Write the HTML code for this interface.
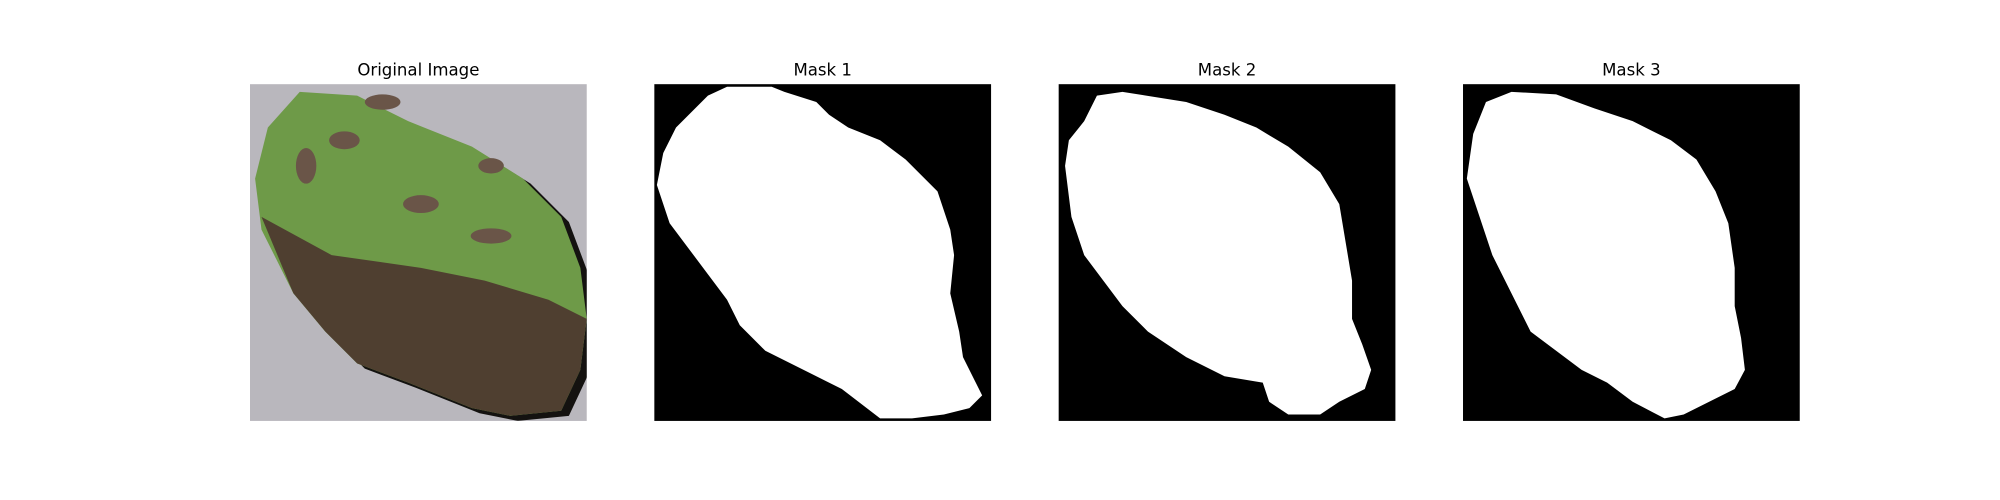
<!DOCTYPE html>
<html><head><meta charset="utf-8"><style>
html,body{margin:0;padding:0;background:#fff;}
svg{display:block;}
text{font-family:"DejaVu Sans","Liberation Sans",sans-serif;}
</style></head><body>
<svg id="fig" width="2000" height="500" viewBox="0 0 2000 500" xmlns="http://www.w3.org/2000/svg">
<defs>
<clipPath id="leafclip"><polygon id="leafclipPoly" points=""/></clipPath>
<clipPath id="panelclip"><rect x="196" y="66" width="264" height="264"/></clipPath>
</defs>
<g id="root" transform="scale(1.27551)"></g>
</svg>
<script>
// Panel definitions (display coords, 1568-wide basis)
const titles = ["Original Image", "Mask 1", "Mask 2", "Mask 3"];
const panelX = [196, 513, 830, 1147];
const leafOutline = [[210,100],[235,72],[280,75],[320,95],[370,115],[410,140],[440,170],[455,210],[460,250],[455,290],[440,322],[400,326],[370,320],[320,300],[280,285],[255,260],[230,230],[205,180],[200,140]];
const brownPart = [[205,170],[260,200],[330,210],[380,220],[430,235],[460,250],[455,290],[440,322],[400,326],[370,320],[320,300],[280,285],[255,260],[230,230]];
const spots = [[270,110,12,7],[330,160,14,7],[385,185,16,6],[240,130,8,14],[300,80,14,6],[385,130,10,6]];
const mask1 = [[570,68],[605,68],[615,72],[640,80],[650,90],[665,100],[690,110],[710,125],[735,150],[745,180],[748,200],[745,230],[752,260],[755,280],[765,300],[770,310],[760,320],[740,325],[715,328],[690,328],[660,305],[640,295],[620,285],[600,275],[580,255],[570,235],[555,215],[540,195],[525,175],[515,145],[520,120],[530,100],[540,90],[555,75]];
const mask2 = [[860,75],[880,72],[930,80],[960,90],[985,100],[1010,115],[1035,135],[1050,160],[1055,190],[1060,220],[1060,250],[1068,270],[1075,290],[1070,305],[1050,315],[1035,325],[1010,325],[995,315],[990,300],[960,295],[930,280],[900,260],[880,240],[865,220],[850,200],[840,170],[835,130],[838,110],[850,95]];
const mask3 = [[1165,80],[1185,72],[1220,74],[1250,85],[1280,95],[1310,110],[1330,125],[1345,150],[1355,175],[1360,210],[1360,240],[1365,265],[1368,290],[1360,305],[1340,315],[1320,325],[1305,328],[1280,315],[1260,300],[1240,290],[1220,275],[1200,260],[1185,230],[1170,200],[1160,170],[1150,140],[1155,105]];
const masks = [mask1, mask2, mask3];

const NS = "http://www.w3.org/2000/svg";
const root = document.getElementById("root");
const SIZE = 264, TOP = 66;
function pts(a){return a.map(p=>p[0]+","+p[1]).join(" ");}
function mk(tag, attrs){const e=document.createElementNS(NS,tag);for(const k in attrs)e.setAttribute(k,attrs[k]);return e;}

titles.forEach((t,i)=>{
  const g = mk("g",{});
  
  
  const bg = mk("rect",{x:panelX[i],y:TOP,width:SIZE,height:SIZE,fill:i===0?"#b9b7bd":"#000"});
  
  
  g.appendChild(bg);
  if(i===0){
    document.getElementById("leafclipPoly").setAttribute("points", pts(leafOutline));
    const inner = mk("g",{"clip-path":"url(#panelclip)"});
    const shadow = mk("polygon",{points:pts(leafOutline.map(p=>[p[0]+6,p[1]+4])),fill:"#141210"});
    
    
    inner.appendChild(shadow);
    const leaf = mk("polygon",{points:pts(leafOutline),fill:"#6e9a48"});
    
    
    inner.appendChild(leaf);
    spots.forEach(s=>{
      const e = mk("ellipse",{cx:s[0],cy:s[1],rx:s[2],ry:s[3],fill:"#6a5548"});
      
      
      inner.appendChild(e);
    });
    const brown = mk("polygon",{points:pts(brownPart),fill:"#4f3f30","clip-path":"url(#leafclip)"});
    
    
    inner.appendChild(brown);
    g.appendChild(inner);
  } else {
    const m = mk("polygon",{points:pts(masks[i-1]),fill:"#fff"});
    
    
    g.appendChild(m);
  }
  const tx = mk("text",{x:panelX[i]+SIZE/2,y:TOP-7,"text-anchor":"middle","font-size":"13",fill:"#000"});
  tx.textContent = t;
  
  
  g.appendChild(tx);
  root.appendChild(g);
});
</script>
</body></html>
